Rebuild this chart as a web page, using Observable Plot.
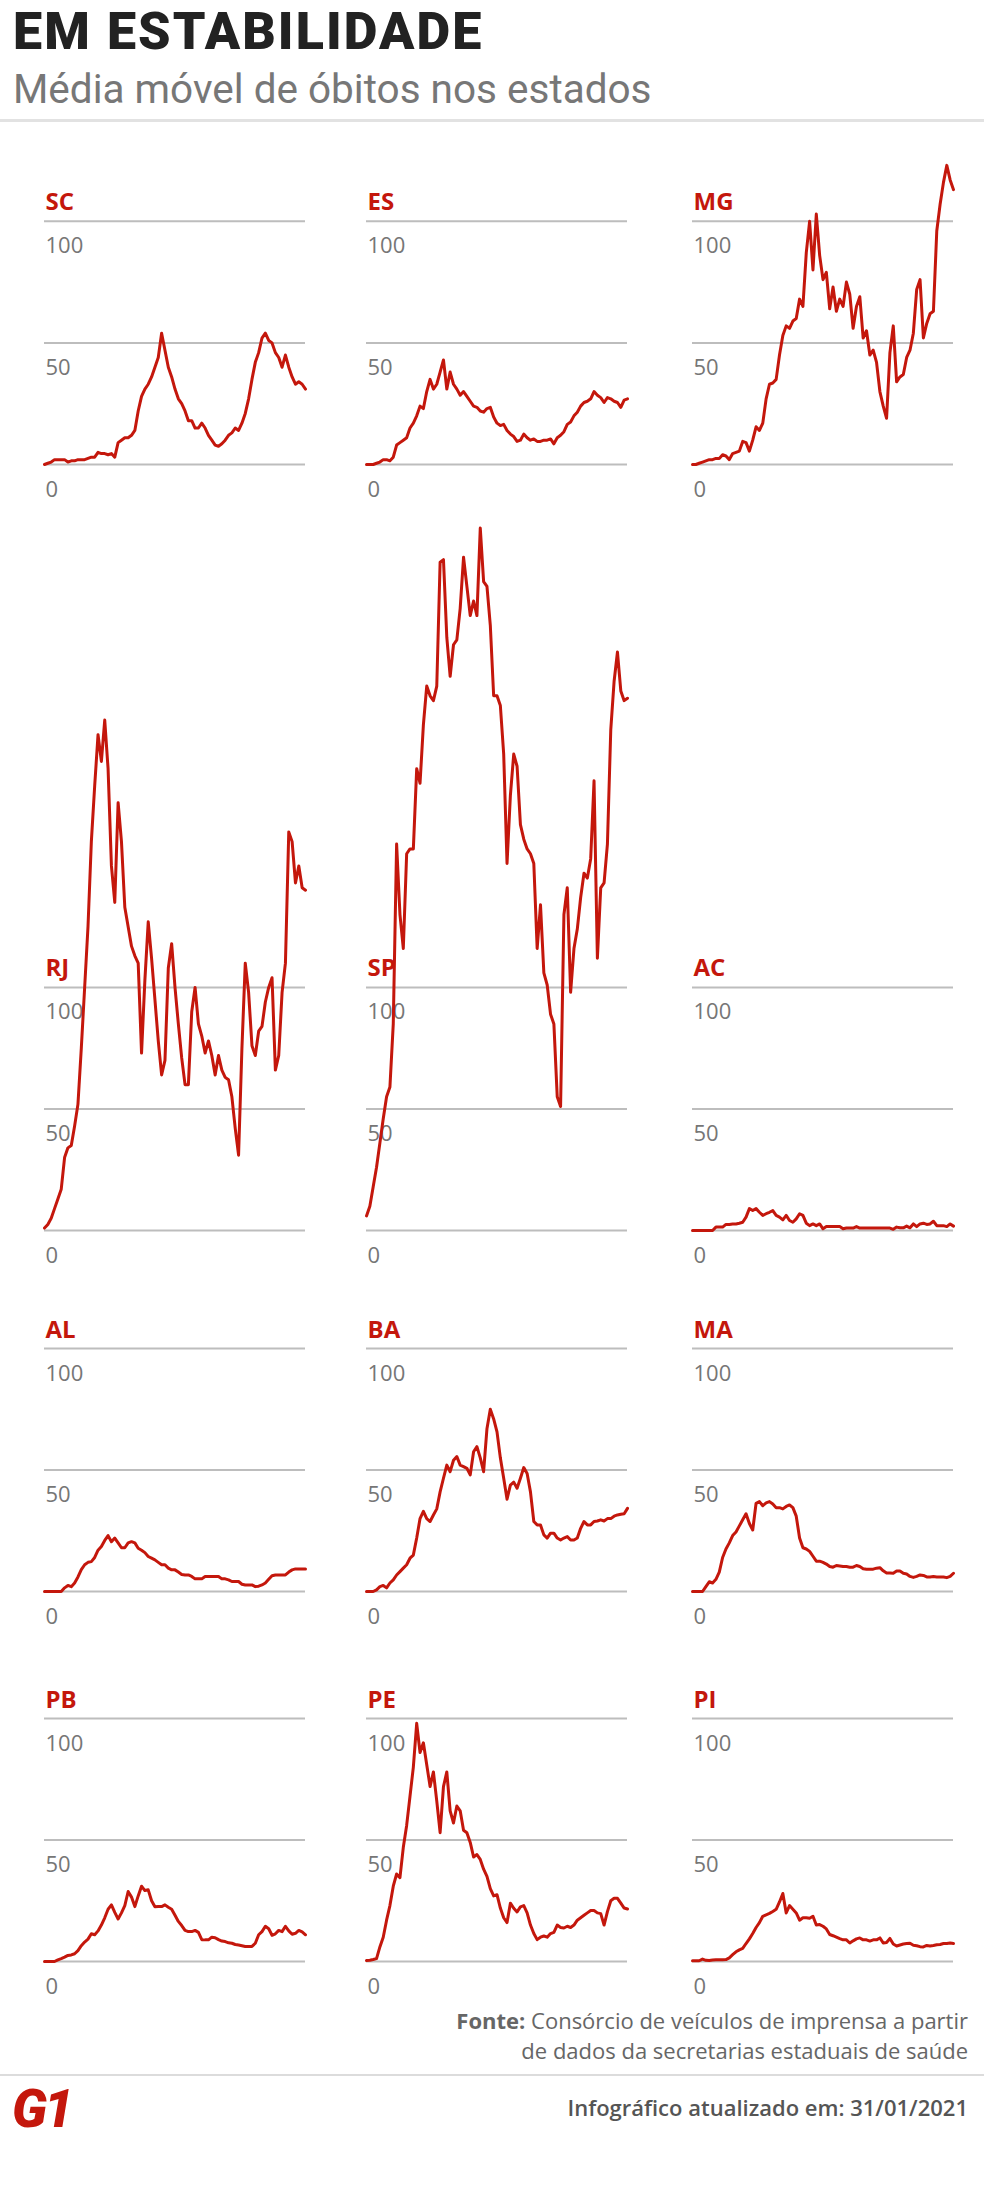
<!DOCTYPE html>
<html>
<head>
<meta charset="utf-8">
<script src="https://cdn.jsdelivr.net/npm/d3@7"></script>
<script src="https://cdn.jsdelivr.net/npm/@observablehq/plot@0.6"></script>
<style>
  body { margin: 0; background: #fff; }
  #page { position: relative; width: 984px; height: 2206px; overflow: hidden; font-family: "Open Sans", sans-serif; background:#fff; }
  .abs { position: absolute; white-space: nowrap; line-height: 1; }
  .panel { position: absolute; }
</style>
</head>
<body>
<div id="page"></div>
<script>
// ---------------- DATA ----------------
const titleText = "EM ESTABILIDADE";
const subtitleText = "Média móvel de óbitos nos estados";
const sourceLine1 = "Consórcio de veículos de imprensa a partir";
const sourceLine2 = "de dados da secretarias estaduais de saúde";
const updatedText = "Infográfico atualizado em: 31/01/2021";

const yTicks = [0, 50, 100];

const sc = [0,0.5,1,2,2,2,2,1,1.5,1.5,2,2,2,2.5,3,3,5,4.5,4.5,4,4.5,3,9,10,11,11,12,14,22,28,31,33,36,40,44,54,47,40,36,31,27,25,22,18,18,15,15,17,15,12,10,8,7.5,8.5,10,12,13,15,14,17,21,27,35,42,46,52,54,51,50,46,44,40,45,40,36,33,34,33,31];
const es = [0,0,0,0.5,1,2,2,1.5,3,8,9,10,11,15,17,20,24,23,30,35,31,33,38,43,31,38,33,31,28.5,30,28,26,24,23.5,22,21.5,23,23.5,19.5,17,16,16.5,14,12.5,11.5,9.5,10,12.5,11,10,10.5,9.5,9.5,10,10,10.5,8.5,11,12,13.5,16.5,17.5,20,21.5,24,25.5,26,27,30,28.5,27.5,25.5,27.5,27,26,25.5,23.5,26.5,27];
const mg = [0,0,0.5,1,1.5,2,2,2.5,2.5,4,3.5,2,4.5,5,5.5,9.5,9,5.5,10,15.5,14,17,27,33,33.5,35,45,53,57,56,59,60,68,65,87,100,80,103,86,76,79,64,73,63,68,65,75,70,56,65,69,52,55,45,47,42,30,24,19,46,57,34,36,37,44,47,54,72,76,52,58,62,63,96,107,116,123,117,113];
const rj = [1,2.5,5,9,13,17,30,34,35,43,52,75,100,125,160,183,204,193,210,190,150,135,176,160,133,125,117,113,110,73,103,127,112,95,78,64,70,108,118,100,85,71,60,60,90,100,85,80,73,78,72,64,72,66,63,62,55,42,31,75,110,98,76,72,82,84,94,100,104,66,72,98,110,164,160,143,150,141,140];
const sp = [6,10,18,26,36,46,55,59,85,159,130,116,155,157,157,190,184,208,224,220,218,224,275,276,244,228,241,243,256,277,265,253,259,253,289,267,265,249,220,220,216,196,151,179,196,191,167,161,157,155,151,116,134,106,101,89,85,55,51,130,141,98,116,124,137,147,145,153,185,112,141,143,159,206,226,238,222,218,219];
const ac = [0,0,0,0,0,0,0,1.4,1.4,1.4,2.5,2.5,2.7,2.7,3,3.4,5.5,9,8.2,9,7.5,6.2,6.9,7.5,8.2,6.2,5.5,4.4,6.2,4.1,3.4,4.8,6.9,6.2,3,2,2.7,2,2.7,0.7,1.6,1.6,1.6,1.6,1.6,0.7,1,1,1,1.6,1,1,1,1,1,1,1,1,1,1,0.5,1.4,1.1,1.1,1.8,1.1,2.7,1.6,2.7,3,2.5,2.7,3.8,2,2,2,1.6,2.7,1.8];
const al = [0,0,0,0,0,0,1.5,2.5,2,3.5,6,9,11,12,12.3,14,17,18.5,21,23,20.5,22,20,18,18,20,20.5,20,17.8,17,16,14.4,13.7,13,12,11,11,9.6,8.9,8.9,8,7,6.8,6.8,6.2,5.2,5.2,5.2,6.2,6.2,6.2,6.2,6.2,5.2,5.2,4.8,4.1,4.1,4.1,3,2.7,2.7,2.7,2,2.2,2.7,3.5,5,6.5,6.8,6.8,6.8,6.8,8,8.9,9.3,9.3,9.3,9.3];
const ba = [0,0,0,0.7,2,2.5,1.5,3.5,4.8,6.8,8.2,9.6,11,13.7,15,22,30,33,30,28.8,31.5,34,41,46.6,52,49.3,54,55.5,52,51.4,50.7,48,57.5,59.6,55,49.3,67,75,71,65.7,55,46.6,38,43.8,45,42.5,46.6,51,48.6,41,28.8,27.4,27.4,23.3,22,24,24,22,21.2,22,22.6,21.2,21.2,22,26,28.8,27.4,27.4,28.8,29,29.5,29,30,30,31,31.5,31.8,32,34.2];
const ma = [0,0,0,0,2,4,3.5,5,8,14,17.5,20,23,24.5,27,29.5,32,28,25.3,36.3,37,35.3,36.5,37,36,34.5,34.5,34,35,35.6,34.5,31,22,18,17.5,16.5,14.5,12.5,12.5,12,11.3,10.3,10,10.7,10.5,10.3,10.3,10,10,10.7,10.3,9.4,9.2,9.2,9.2,9.6,9.8,8.5,7.6,7.6,7.5,8.4,8.4,7.5,7.2,6.2,5.8,6.2,6.8,6.6,6,6,6.2,6,6,6,5.7,6.2,7.5];
const pb = [0,0,0,0,0.7,1.2,1.8,2.5,2.7,3.2,4.5,6.5,8,9.2,11.4,11,12.6,15,18,21.5,23.3,20.2,17.5,20,23,28.8,26.5,22.6,27,31,29.2,29.5,25,22.5,22.6,22.6,23.3,22.3,21.5,19,16.5,14.8,12.8,12.3,12.3,12.8,12,9,8.9,8.9,10,9.8,9,8.4,8.2,7.7,7.5,7,6.8,6.5,6.2,6.2,6.2,7.5,11,12.3,14.5,13.5,10.8,11.4,12.8,12.3,14.5,12.6,11.2,11.6,12.8,12.2,11];
const pe = [0.4,0.5,0.8,1.2,6,10,17,23,31,36,34.5,47,56,68,80,98,86,90,81,72,78,66,53,72,78,62,57,64,62,54,53,49,43,44,42,38,35,30,27,27.5,22,18,16,24,21.9,20.4,22.5,23,20,15,11.5,9,10,10.5,10,11.5,12,15,14,13.8,14.5,14,15,17,18,19,20,21,21,20,19.7,15,20.5,25,26,26,24,22,21.6];
const pi = [0.3,0.3,0.3,1,0.5,0.4,0.6,0.7,0.7,0.7,0.8,1.5,2.8,4,4.8,5.4,7.4,9.3,11.5,14,16,18.6,19.2,19.8,20.6,21.5,24.5,28,20,23,21.5,20,17,18,18,17.8,18.6,15,15.2,14.5,13.4,11.1,10.6,10,9.4,8.9,8.9,7.6,8.5,9.3,9.7,8.9,8.9,8.4,8.9,8.9,9.7,7.6,7.8,9.5,7.2,6.4,6.8,7.2,7.4,7.5,6.7,6.5,6.1,6,6.6,6.4,6.6,6.9,7,7.4,7.4,7.6,7.4];

const rows = [
  [["SC", sc], ["ES", es], ["MG", mg]],
  [["RJ", rj], ["SP", sp], ["AC", ac]],
  [["AL", al], ["BA", ba], ["MA", ma]],
  [["PB", pb], ["PE", pe], ["PI", pi]]
];

// ---------------- LAYOUT ----------------
const RED = "#c4170c";
const K = 2.43;            // px per unit
const PW = 261;            // plot width
const colX = [44, 366, 692];
const rowBase = [464, 1230, 1591, 1961];
const rowMax = [125, 295, 100, 100];
const mL = 2, mR = 3, mT = 40, mB = 40;

const page = document.getElementById("page");

function addText(txt, css) {
  const d = document.createElement("div");
  d.className = "abs";
  d.innerHTML = txt;
  Object.assign(d.style, css);
  page.appendChild(d);
  return d;
}

// Header
addText(titleText, {left: "13px", top: "6px", fontFamily: "Roboto, sans-serif", fontWeight: "900", fontSize: "52px", color: "#222", letterSpacing: "2.1px"});
addText(subtitleText, {left: "13px", top: "69px", fontFamily: "Roboto, sans-serif", fontWeight: "400", fontSize: "40.5px", color: "#777"});
const sep1 = document.createElement("div");
Object.assign(sep1.style, {position: "absolute", left: "0px", top: "119px", width: "984px", height: "3px", background: "#e2e2e2"});
page.appendChild(sep1);

// Panels
rows.forEach((row, r) => {
  const ymax = rowMax[r];
  const plotH = Math.round(ymax * K);
  row.forEach(([name, values], c) => {
    const chart = Plot.plot({
      width: PW + mL + mR,
      height: plotH + mT + mB,
      marginLeft: mL, marginRight: mR, marginTop: mT, marginBottom: mB,
      style: {fontFamily: "'Open Sans', sans-serif", overflow: "visible", background: "transparent"},
      x: {domain: [0, values.length - 1], axis: null},
      y: {domain: [0, ymax], axis: null},
      marks: [
        Plot.ruleY(yTicks, {stroke: "#bdbdbd", strokeWidth: 2}),
        Plot.text(yTicks, {frameAnchor: "left", y: d => d, text: d => String(d), textAnchor: "start", lineAnchor: "bottom", dx: 1, dy: 32, fill: "#767676", fontSize: 22}),
        Plot.text([{s: name, v: 100}], {frameAnchor: "left", y: "v", text: "s", textAnchor: "start", lineAnchor: "bottom", dx: 1, dy: -11, fill: RED, fontSize: 24, fontWeight: "bold"}),
        Plot.line(values, {x: (d, i) => i, y: d => d, stroke: RED, strokeWidth: 3, strokeLinejoin: "round", strokeLinecap: "round"})
      ]
    });
    const wrap = document.createElement("div");
    wrap.className = "panel";
    wrap.style.left = (colX[c] - mL) + "px";
    wrap.style.top = (rowBase[r] - plotH - mT) + "px";
    wrap.appendChild(chart);
    page.appendChild(wrap);
  });
});

// Footer
addText("<b>Fonte:</b> " + sourceLine1, {right: "16px", top: "2009px", fontSize: "22px", color: "#666"});
addText(sourceLine2, {right: "16px", top: "2039px", fontSize: "22px", color: "#666"});
const sep2 = document.createElement("div");
Object.assign(sep2.style, {position: "absolute", left: "0px", top: "2074px", width: "984px", height: "2px", background: "#dcdcdc"});
page.appendChild(sep2);
addText(updatedText, {right: "16px", top: "2096px", fontSize: "22px", fontWeight: "600", color: "#555"});
addText("G1", {left: "12px", top: "2083px", fontFamily: "Roboto, sans-serif", fontWeight: "900", fontStyle: "italic", fontSize: "53px", color: RED, letterSpacing: "-3px"});
</script>
</body>
</html>
